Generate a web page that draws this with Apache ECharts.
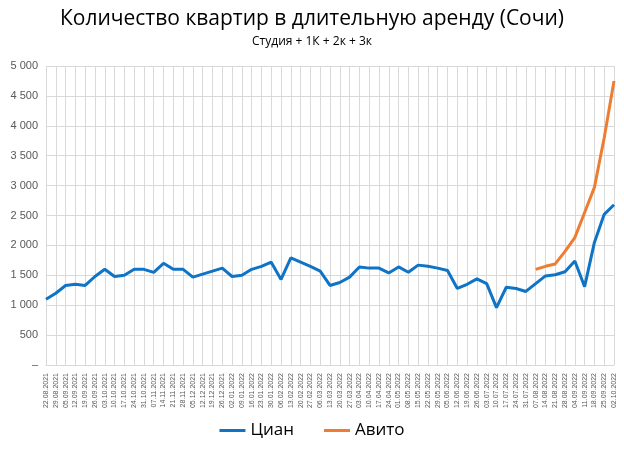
<!DOCTYPE html>
<html><head><meta charset="utf-8">
<script src="https://cdn.jsdelivr.net/npm/echarts@6/dist/echarts.min.js"></script>
<style>html,body{margin:0;padding:0;background:#fff}#c{width:624px;height:452px}</style>
</head><body><div id="c"></div>
<script>
const dates = ["22.08.2021","29.08.2021","05.09.2021","12.09.2021","19.09.2021","26.09.2021","03.10.2021","10.10.2021","17.10.2021","24.10.2021","31.10.2021","07.11.2021","14.11.2021","21.11.2021","28.11.2021","05.12.2021","12.12.2021","19.12.2021","26.12.2021","02.01.2022","09.01.2022","16.01.2022","23.01.2022","30.01.2022","06.02.2022","13.02.2022","20.02.2022","27.02.2022","06.03.2022","13.03.2022","20.03.2022","27.03.2022","03.04.2022","10.04.2022","17.04.2022","24.04.2022","01.05.2022","08.05.2022","15.05.2022","22.05.2022","29.05.2022","05.06.2022","12.06.2022","19.06.2022","26.06.2022","03.07.2022","10.07.2022","17.07.2022","24.07.2022","31.07.2022","07.08.2022","14.08.2022","21.08.2022","28.08.2022","04.09.2022","11.09.2022","18.09.2022","25.09.2022","02.10.2022"];
const cian = [1100,1200,1330,1350,1330,1480,1600,1480,1500,1600,1600,1550,1700,1600,1600,1470,1520,1570,1620,1480,1500,1600,1650,1720,1430,1790,1720,1650,1570,1330,1380,1470,1640,1620,1620,1540,1640,1550,1670,1650,1620,1580,1280,1350,1440,1360,960,1300,1280,1230,1360,1490,1510,1560,1740,1310,2050,2520,2680];
const avitoStart = 50;
const avitoVals = [1600,1650,1690,1900,2130,2550,2970,3800,4750];
const avito = dates.map((d,i)=> i>=avitoStart ? avitoVals[i-avitoStart] : null);
const chart = echarts.init(document.getElementById('c'));
chart.setOption({
  animation:false,
  title:{text:'Количество квартир в длительную аренду (Сочи)',subtext:'Студия + 1К + 2к + 3к',left:'center',top:4,
    textStyle:{fontFamily:'Open Sans',fontSize:21,fontWeight:'normal',color:'#000'},
    subtextStyle:{fontFamily:'Open Sans',fontSize:12,color:'#000'},itemGap:6},
  legend:{bottom:8,itemWidth:26,itemHeight:3,itemGap:30,icon:'rect',textStyle:{fontFamily:'Open Sans',fontSize:17,color:'#000'},data:['Циан','Авито']},
  grid:{left:46,right:10,top:66,bottom:87},
  xAxis:{type:'category',data:dates,boundaryGap:false,
    axisLine:{lineStyle:{color:'#d9d9d9'}},axisTick:{show:false},
    splitLine:{show:true,lineStyle:{color:'#d9d9d9'}},
    axisLabel:{rotate:90,interval:0,fontSize:7,color:'#595959',fontFamily:'Liberation Sans'}},
  yAxis:{type:'value',min:0,max:5000,interval:500,
    axisLine:{show:false},axisTick:{show:false},
    splitLine:{lineStyle:{color:'#d9d9d9'}},
    axisLabel:{fontSize:11,color:'#595959',fontFamily:'Liberation Sans',
      formatter:v=> v===0?'–':String(v).replace(/\B(?=(\d{3})+(?!\d))/g,' ')}},
  series:[
    {name:'Циан',type:'line',data:cian,symbol:'none',lineStyle:{width:3,color:'#0f73c6'},itemStyle:{color:'#0f73c6'}},
    {name:'Авито',type:'line',data:avito,symbol:'none',lineStyle:{width:3,color:'#ed7d31'},itemStyle:{color:'#ed7d31'}}
  ]
});
</script></body></html>
